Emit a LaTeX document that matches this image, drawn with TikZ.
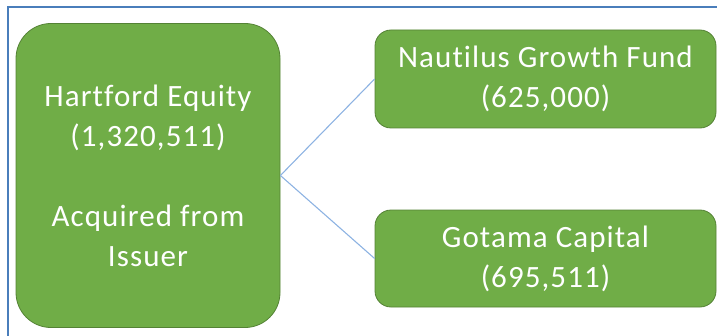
\documentclass[tikz,border=0pt]{standalone}
\usepackage{fontspec}
\setmainfont{Carlito}[Ligatures=NoCommon, LetterSpace=3.5]
\definecolor{boxgreen}{HTML}{70AD47}
\definecolor{boxedge}{HTML}{548235}
\definecolor{framecol}{HTML}{4A7EBB}
\definecolor{linkcol}{HTML}{8DB3E2}
\tikzset{
  gbox/.style={draw=boxedge, line width=0.8pt, fill=boxgreen, text=white, align=center,
    font=\fontsize{31}{40}\selectfont, inner sep=0pt},
  link/.style={draw=linkcol, line width=1.1pt}
}
\begin{document}
\begin{tikzpicture}[x=1pt,y=1pt]
\useasboundingbox (0,0) rectangle (717,335);
\draw[framecol, line width=2pt] (8,-5) coordinate (f1) -- (8,328) coordinate (f2) -- (725,328) coordinate (f3);
\node[gbox, rounded corners=35pt, minimum width=264pt, minimum height=304pt] (L) at (148,159.5)
  {Hartford Equity\\(1,320,511)\\[40pt]Acquired from\\Issuer};
\node[gbox, rounded corners=16pt, minimum width=341pt, minimum height=98pt] (T) at (545.5,256)
  {Nautilus Growth Fund\\(625,000)};
\node[gbox, rounded corners=16pt, minimum width=341pt, minimum height=97pt] (B) at (545.5,76.5)
  {Gotama Capital\\(695,511)};
\draw[link] (L.east) -- (T.west);
\draw[link] (L.east) -- (B.west);
\end{tikzpicture}
\end{document}
